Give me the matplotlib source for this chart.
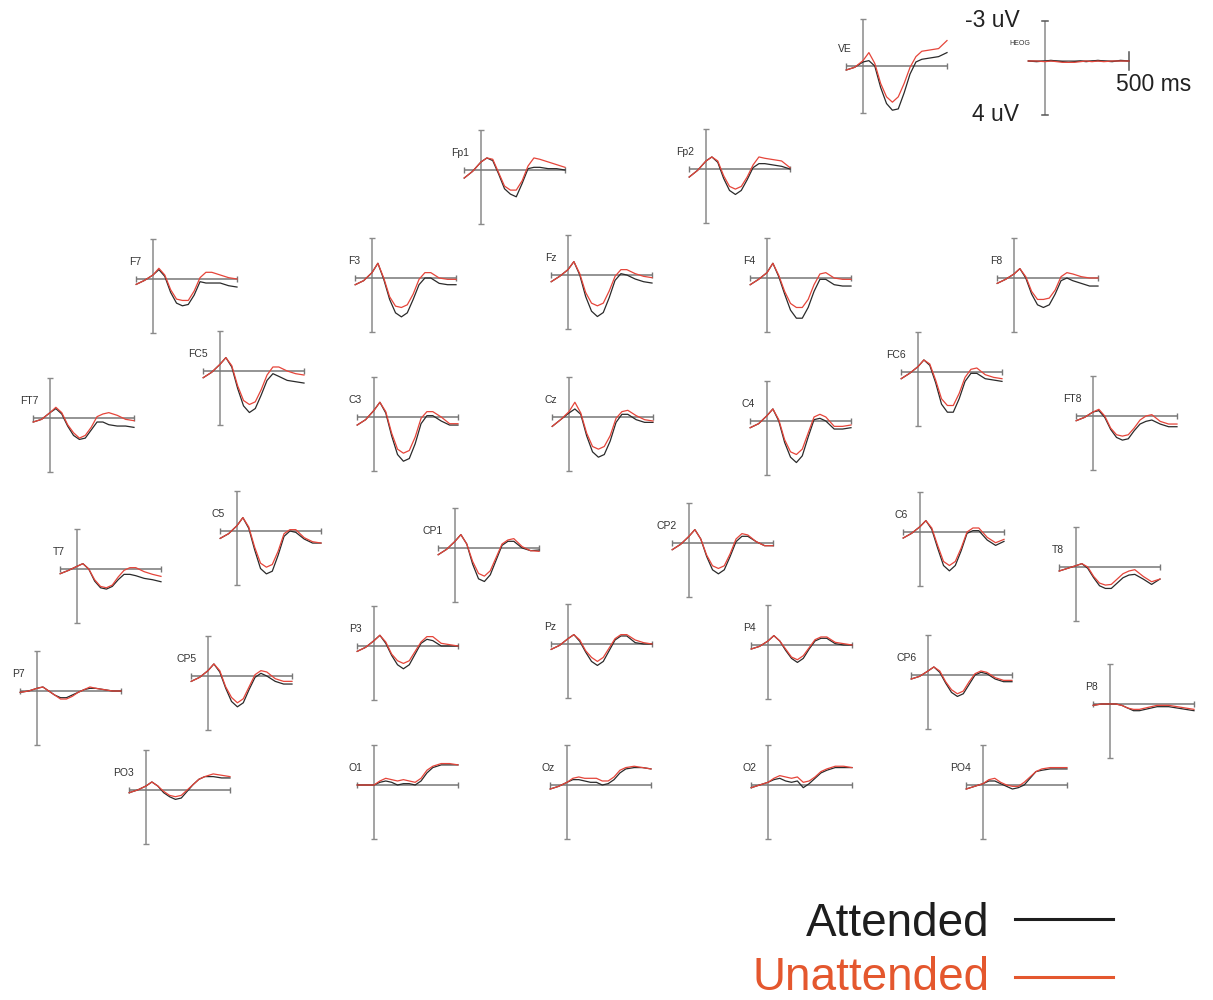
import matplotlib
matplotlib.use("Agg")
import matplotlib.pyplot as plt
from matplotlib.lines import Line2D

plt.rcParams['font.family'] = ['Liberation Sans', 'DejaVu Sans']

# ---------------- data (uV, negative plotted upward) ----------------
TIMES = [-100, -50, 0, 35, 70, 105, 140, 175, 210, 245, 280, 315, 350, 400, 450, 500]

att_VE  = [0.3, 0.1, -0.3, -0.4, 0.0, 1.6, 2.8, 3.3, 3.2, 2.0, 0.6, -0.3, -0.5, -0.6, -0.7, -1.0]
una_VE  = [0.3, 0.1, -0.4, -1.0, -0.2, 1.3, 2.3, 2.7, 2.3, 1.3, 0.1, -0.7, -1.1, -1.2, -1.3, -1.9]
att_HEOG = [0.0, 0.05, 0.0, -0.05, 0.0, 0.05, 0.1, 0.05, 0.0, 0.05, 0.0, -0.05, 0.0, 0.05, -0.05, 0.0]
una_HEOG = [0.0, 0.0, 0.05, 0.0, 0.05, 0.1, 0.1, 0.1, 0.05, 0.0, 0.05, 0.0, 0.05, 0.0, 0.0, 0.0]
att_Fp1 = [0.6, 0.1, -0.6, -0.9, -0.7, 0.3, 1.4, 1.8, 2.0, 1.0, -0.1, -0.2, -0.2, -0.1, -0.1, 0.0]
una_Fp1 = [0.6, 0.1, -0.6, -0.9, -0.8, 0.2, 1.2, 1.5, 1.5, 0.8, -0.3, -0.9, -0.8, -0.6, -0.4, -0.2]
att_Fp2 = [0.6, 0.1, -0.6, -0.9, -0.5, 0.7, 1.6, 1.9, 1.6, 0.8, -0.1, -0.4, -0.4, -0.3, -0.2, 0.0]
una_Fp2 = [0.6, 0.1, -0.6, -0.9, -0.6, 0.5, 1.3, 1.5, 1.3, 0.6, -0.3, -0.9, -0.8, -0.7, -0.6, -0.1]
att_F7 = [0.4, 0.1, -0.3, -0.7, -0.2, 1.0, 1.8, 2.0, 1.9, 1.2, 0.2, 0.3, 0.3, 0.3, 0.5, 0.6]
una_F7 = [0.4, 0.1, -0.3, -0.8, -0.3, 0.8, 1.5, 1.6, 1.6, 0.9, -0.1, -0.5, -0.5, -0.3, -0.1, 0.0]
att_F3 = [0.5, 0.2, -0.4, -1.1, 0.1, 1.6, 2.6, 2.9, 2.6, 1.6, 0.5, 0.0, 0.0, 0.4, 0.5, 0.5]
una_F3 = [0.5, 0.2, -0.4, -1.1, 0.0, 1.4, 2.1, 2.2, 2.0, 1.2, 0.1, -0.4, -0.4, 0.0, 0.1, 0.1]
att_Fz = [0.5, 0.1, -0.4, -1.0, 0.0, 1.6, 2.7, 3.1, 2.8, 1.7, 0.4, -0.1, 0.0, 0.3, 0.5, 0.6]
una_Fz = [0.5, 0.1, -0.4, -1.0, -0.1, 1.3, 2.1, 2.3, 2.1, 1.2, 0.1, -0.4, -0.4, -0.1, 0.1, 0.2]
att_F4 = [0.5, 0.1, -0.4, -1.1, -0.1, 1.2, 2.4, 3.0, 3.0, 2.2, 1.0, 0.1, 0.1, 0.5, 0.6, 0.6]
una_F4 = [0.5, 0.1, -0.4, -1.1, -0.2, 1.0, 1.9, 2.2, 2.2, 1.6, 0.5, -0.3, -0.4, 0.0, 0.1, 0.1]
att_F8 = [0.4, 0.1, -0.3, -0.7, 0.0, 1.2, 2.0, 2.2, 2.0, 1.2, 0.2, 0.0, 0.2, 0.4, 0.6, 0.6]
una_F8 = [0.4, 0.1, -0.3, -0.7, -0.1, 1.0, 1.6, 1.6, 1.5, 0.9, -0.1, -0.4, -0.3, -0.1, 0.0, 0.0]
att_FC5 = [0.5, 0.1, -0.5, -1.0, -0.3, 1.3, 2.6, 3.1, 2.8, 1.8, 0.7, 0.2, 0.4, 0.7, 0.8, 0.9]
una_FC5 = [0.5, 0.1, -0.5, -1.0, -0.4, 1.1, 2.2, 2.5, 2.3, 1.4, 0.3, -0.3, -0.3, 0.0, 0.2, 0.3]
att_FC6 = [0.5, 0.1, -0.4, -0.9, -0.5, 0.8, 2.4, 3.0, 3.0, 2.0, 0.7, 0.1, 0.1, 0.5, 0.6, 0.7]
una_FC6 = [0.5, 0.1, -0.4, -0.9, -0.6, 0.6, 2.0, 2.5, 2.5, 1.6, 0.4, -0.2, -0.3, 0.2, 0.4, 0.5]
att_FT7 = [0.3, 0.1, -0.4, -0.7, -0.3, 0.6, 1.3, 1.6, 1.5, 0.9, 0.3, 0.3, 0.5, 0.6, 0.6, 0.7]
una_FT7 = [0.3, 0.1, -0.4, -0.8, -0.4, 0.5, 1.1, 1.5, 1.3, 0.7, -0.1, -0.3, -0.4, -0.2, 0.1, 0.2]
att_C3 = [0.6, 0.2, -0.5, -1.1, -0.3, 1.4, 2.8, 3.3, 3.1, 2.0, 0.5, -0.1, -0.1, 0.3, 0.6, 0.6]
una_C3 = [0.6, 0.2, -0.5, -1.1, -0.4, 1.2, 2.4, 2.7, 2.5, 1.5, 0.1, -0.4, -0.4, 0.0, 0.5, 0.5]
att_Cz = [0.7, 0.2, -0.3, -0.6, -0.2, 1.4, 2.6, 3.0, 2.8, 1.8, 0.4, -0.2, -0.2, 0.2, 0.4, 0.4]
una_Cz = [0.7, 0.2, -0.4, -1.1, -0.3, 1.2, 2.2, 2.4, 2.2, 1.4, 0.1, -0.4, -0.5, -0.1, 0.2, 0.3]
att_C4 = [0.5, 0.2, -0.4, -0.9, 0.0, 1.6, 2.7, 3.1, 2.6, 1.2, -0.1, -0.2, 0.0, 0.6, 0.6, 0.5]
una_C4 = [0.5, 0.2, -0.4, -0.9, -0.1, 1.4, 2.3, 2.5, 2.1, 0.9, -0.3, -0.5, -0.3, 0.4, 0.4, 0.3]
att_FT8 = [0.35, 0.1, -0.3, -0.4, 0.1, 1.0, 1.6, 1.8, 1.7, 1.1, 0.6, 0.4, 0.3, 0.6, 0.8, 0.8]
una_FT8 = [0.35, 0.1, -0.3, -0.5, 0.0, 0.9, 1.4, 1.5, 1.4, 0.9, 0.3, 0.0, -0.1, 0.4, 0.6, 0.6]
att_T7 = [0.35, 0.1, -0.2, -0.4, 0.0, 0.9, 1.4, 1.5, 1.3, 0.8, 0.4, 0.4, 0.5, 0.7, 0.8, 0.95]
una_T7 = [0.35, 0.1, -0.2, -0.4, 0.0, 0.8, 1.3, 1.4, 1.2, 0.6, 0.1, -0.1, -0.1, 0.2, 0.4, 0.55]
att_C5 = [0.55, 0.2, -0.4, -1.0, -0.2, 1.4, 2.8, 3.2, 3.0, 1.8, 0.4, 0.0, 0.1, 0.6, 0.9, 0.9]
una_C5 = [0.55, 0.2, -0.4, -1.0, -0.3, 1.2, 2.4, 2.7, 2.5, 1.5, 0.2, -0.1, -0.1, 0.5, 0.8, 0.9]
att_CP1 = [0.5, 0.1, -0.5, -1.0, -0.3, 1.2, 2.3, 2.5, 2.0, 0.9, -0.2, -0.5, -0.5, 0.0, 0.2, 0.15]
una_CP1 = [0.5, 0.1, -0.5, -1.0, -0.3, 1.0, 1.9, 2.1, 1.7, 0.7, -0.3, -0.6, -0.7, -0.1, 0.2, 0.25]
att_CP2 = [0.5, 0.1, -0.5, -1.0, -0.3, 1.0, 2.0, 2.3, 2.0, 1.0, -0.1, -0.5, -0.5, -0.1, 0.2, 0.2]
una_CP2 = [0.5, 0.1, -0.5, -1.0, -0.3, 0.9, 1.7, 1.9, 1.7, 0.8, -0.3, -0.7, -0.6, -0.1, 0.2, 0.2]
att_C6 = [0.45, 0.1, -0.4, -0.85, -0.2, 1.2, 2.5, 2.9, 2.5, 1.4, 0.1, -0.1, -0.1, 0.6, 1.0, 0.7]
una_C6 = [0.45, 0.1, -0.4, -0.85, -0.3, 1.0, 2.2, 2.5, 2.2, 1.2, 0.0, -0.3, -0.3, 0.4, 0.8, 0.55]
att_T8 = [0.3, 0.1, -0.1, -0.25, 0.1, 0.8, 1.4, 1.6, 1.6, 1.2, 0.8, 0.6, 0.55, 0.9, 1.3, 0.9]
una_T8 = [0.3, 0.1, -0.1, -0.25, 0.0, 0.7, 1.2, 1.35, 1.3, 0.9, 0.5, 0.3, 0.2, 0.7, 1.1, 0.9]
att_P3 = [0.4, 0.1, -0.4, -0.8, -0.2, 0.7, 1.4, 1.7, 1.4, 0.6, -0.2, -0.5, -0.4, 0.0, 0.0, 0.0]
una_P3 = [0.4, 0.1, -0.4, -0.8, -0.3, 0.6, 1.1, 1.3, 1.1, 0.4, -0.3, -0.7, -0.7, -0.2, -0.1, 0.0]
att_Pz = [0.4, 0.1, -0.4, -0.7, -0.2, 0.6, 1.3, 1.6, 1.3, 0.5, -0.3, -0.6, -0.6, -0.1, 0.0, 0.0]
una_Pz = [0.4, 0.1, -0.4, -0.7, -0.3, 0.5, 1.0, 1.3, 1.0, 0.3, -0.4, -0.7, -0.7, -0.3, -0.1, 0.0]
att_P4 = [0.3, 0.1, -0.3, -0.7, -0.3, 0.4, 1.0, 1.3, 1.0, 0.3, -0.3, -0.5, -0.5, -0.1, 0.0, 0.0]
una_P4 = [0.3, 0.1, -0.3, -0.7, -0.3, 0.3, 0.9, 1.1, 0.8, 0.2, -0.4, -0.6, -0.6, -0.2, -0.1, 0.0]
att_P7 = [0.1, 0.0, -0.2, -0.3, 0.0, 0.3, 0.5, 0.5, 0.3, 0.1, -0.1, -0.2, -0.2, -0.1, 0.0, 0.0]
una_P7 = [0.1, 0.0, -0.2, -0.3, 0.0, 0.3, 0.6, 0.6, 0.4, 0.1, -0.1, -0.3, -0.2, -0.1, 0.0, 0.0]
att_CP5 = [0.4, 0.1, -0.4, -0.9, -0.3, 0.9, 1.9, 2.3, 2.0, 1.0, 0.1, -0.2, 0.0, 0.4, 0.6, 0.6]
una_CP5 = [0.4, 0.1, -0.4, -0.9, -0.4, 0.8, 1.6, 2.0, 1.7, 0.8, -0.1, -0.4, -0.3, 0.2, 0.4, 0.4]
att_CP6 = [0.3, 0.1, -0.3, -0.6, -0.2, 0.6, 1.3, 1.6, 1.4, 0.7, 0.0, -0.2, -0.1, 0.3, 0.5, 0.5]
una_CP6 = [0.3, 0.1, -0.3, -0.6, -0.3, 0.5, 1.1, 1.4, 1.2, 0.5, -0.1, -0.3, -0.2, 0.2, 0.4, 0.4]
att_P8 = [0.1, 0.0, 0.0, 0.0, 0.1, 0.3, 0.5, 0.5, 0.4, 0.3, 0.2, 0.2, 0.2, 0.3, 0.4, 0.5]
una_P8 = [0.1, 0.0, 0.0, 0.0, 0.1, 0.3, 0.4, 0.4, 0.3, 0.2, 0.1, 0.1, 0.1, 0.2, 0.3, 0.4]
att_PO3 = [0.2, 0.0, -0.3, -0.6, -0.3, 0.2, 0.5, 0.7, 0.6, 0.1, -0.4, -0.8, -1.0, -1.0, -0.9, -0.9]
una_PO3 = [0.2, 0.0, -0.3, -0.6, -0.3, 0.1, 0.4, 0.5, 0.4, 0.0, -0.4, -0.8, -1.0, -1.2, -1.1, -1.0]
att_O1 = [0.0, 0.0, 0.0, -0.2, -0.3, -0.2, 0.0, -0.1, -0.1, 0.0, -0.3, -0.9, -1.3, -1.5, -1.5, -1.5]
una_O1 = [0.0, 0.0, 0.0, -0.3, -0.5, -0.4, -0.3, -0.4, -0.3, -0.2, -0.5, -1.1, -1.4, -1.6, -1.6, -1.5]
att_Oz = [0.3, 0.1, -0.2, -0.4, -0.4, -0.3, -0.2, -0.2, 0.0, -0.1, -0.4, -0.9, -1.2, -1.3, -1.3, -1.2]
una_Oz = [0.3, 0.1, -0.2, -0.5, -0.6, -0.5, -0.5, -0.5, -0.3, -0.3, -0.6, -1.1, -1.3, -1.4, -1.3, -1.2]
att_O2 = [0.2, 0.0, -0.2, -0.4, -0.5, -0.3, -0.2, -0.3, 0.2, -0.1, -0.5, -0.9, -1.1, -1.3, -1.3, -1.3]
una_O2 = [0.2, 0.0, -0.2, -0.5, -0.7, -0.6, -0.5, -0.6, -0.2, -0.3, -0.6, -1.0, -1.2, -1.4, -1.4, -1.3]
att_PO4 = [0.3, 0.1, -0.1, -0.3, -0.3, -0.1, 0.1, 0.3, 0.2, 0.0, -0.5, -1.0, -1.1, -1.2, -1.2, -1.2]
una_PO4 = [0.3, 0.1, -0.1, -0.4, -0.5, -0.2, 0.0, 0.1, 0.1, -0.2, -0.6, -1.0, -1.2, -1.3, -1.3, -1.3]

CHANNELS = ["VE", "HEOG", "Fp1", "Fp2", "F7", "F3", "Fz", "F4", "F8", "FC5", "FC6",
            "FT7", "C3", "Cz", "C4", "FT8", "C5", "CP1", "CP2", "C6", "T7", "T8",
            "P3", "Pz", "P4", "P7", "CP5", "CP6", "P8", "PO3", "O1", "Oz", "O2", "PO4"]
ATTENDED = {ch: globals()["att_" + ch] for ch in CHANNELS}
UNATTENDED = {ch: globals()["una_" + ch] for ch in CHANNELS}

LEGEND_LABELS = ["Attended", "Unattended"]

# ---------------- layout (pixel position of time-0 / 0-uV origin) ----------------
LAYOUT = {
    "VE": (863, 66), "HEOG": (1045, 61),
    "Fp1": (481, 170), "Fp2": (706, 169),
    "F7": (153, 279), "F3": (372, 278), "Fz": (568, 275), "F4": (767, 278), "F8": (1014, 278),
    "FC5": (220, 371), "FC6": (918, 372),
    "FT7": (50, 418), "C3": (374, 417), "Cz": (569, 417), "C4": (767, 421), "FT8": (1093, 416),
    "C5": (237, 531), "CP1": (455, 548), "CP2": (689, 543), "C6": (920, 532),
    "T7": (77, 569), "T8": (1076, 567),
    "P3": (374, 646), "Pz": (568, 644), "P4": (768, 645),
    "P7": (37, 691), "CP5": (208, 676), "CP6": (928, 675), "P8": (1110, 704),
    "PO3": (146, 790), "O1": (374, 785), "Oz": (567, 785), "O2": (768, 785), "PO4": (983, 785),
}

W, H = 1213, 1000
PX_MS = 0.168
PX_UV = 13.4
T0, T1 = -100, 500
BLACK = "#2a2a2a"
RED = "#e5453a"
AXC = "#8a8a8a"

fig = plt.figure(figsize=(W / 100, H / 100), dpi=100)
fig.patch.set_facecolor("white")


def add_panel(ch, ylo=-3.0, yhi=4.0):
    vx, zy = LAYOUT[ch]
    left = vx + T0 * PX_MS
    width = (T1 - T0) * PX_MS
    bottom_from_top = zy + yhi * PX_UV
    height = (yhi - ylo) * PX_UV
    ax = fig.add_axes([left / W, 1 - bottom_from_top / H, width / W, height / H])
    ax.set_xlim(T0, T1)
    ax.set_ylim(yhi, ylo)
    ax.axis("off")
    ax.axvline(0, color=AXC, lw=1.1, zorder=1)
    ax.axhline(0, color="#777777", lw=1.1, zorder=1)
    return ax


for ch in CHANNELS:
    if ch == "VE":
        ax = add_panel(ch, -3.5, 3.5)
        ylo, yhi = -3.5, 3.5
    else:
        ax = add_panel(ch)
        ylo, yhi = -3.0, 4.0
    if ch == "HEOG":
        ax.plot([-17, 15], [ylo, ylo], color="#555555", lw=1.1, clip_on=False)
        ax.plot([-17, 15], [yhi, yhi], color="#555555", lw=1.1, clip_on=False)
        ax.plot([T1, T1], [-0.7, 0.7], color="#555555", lw=1.1, clip_on=False)
        ax.text(-148, ylo, "-3 uV", ha="right", va="center", fontsize=16.5, color="#222222")
        ax.text(-155, yhi, "4 uV", ha="right", va="center", fontsize=16.5, color="#222222")
        ax.text(425, 1.75, "500 ms", ha="left", va="center", fontsize=16.5, color="#222222")
        ax.text(-85, -1.3, "HEOG", ha="right", va="center", fontsize=5, color="#333333")
    else:
        ax.plot([0, 0], [ylo, yhi], ls="none", marker="_", ms=5, mew=1.0, color=AXC, clip_on=False)
        ax.plot([T0, T1], [0, 0], ls="none", marker="|", ms=4, mew=1.0, color="#777777", clip_on=False)
        ax.text(-70, -1.25, ch, ha="right", va="center", fontsize=7.5, color="#333333")
    ax.plot(TIMES, ATTENDED[ch], color=BLACK, lw=0.9, zorder=3, clip_on=False)
    ax.plot(TIMES, UNATTENDED[ch], color=RED, lw=0.9, zorder=4, clip_on=False)

# ---------------- legend ----------------
fig.text(990 / W, 1 - 936 / H, LEGEND_LABELS[0], ha="right", va="baseline", fontsize=33, color="#1e1e1e")
fig.text(990 / W, 1 - 990 / H, LEGEND_LABELS[1], ha="right", va="baseline", fontsize=33, color="#e4572e")
fig.add_artist(Line2D([1015 / W, 1113 / W], [1 - 919 / H, 1 - 919 / H], color="#1e1e1e", lw=2.2))
fig.add_artist(Line2D([1015 / W, 1113 / W], [1 - 977 / H, 1 - 977 / H], color="#e4572e", lw=2.2))

fig.savefig("out.png", dpi=100, facecolor="white")
